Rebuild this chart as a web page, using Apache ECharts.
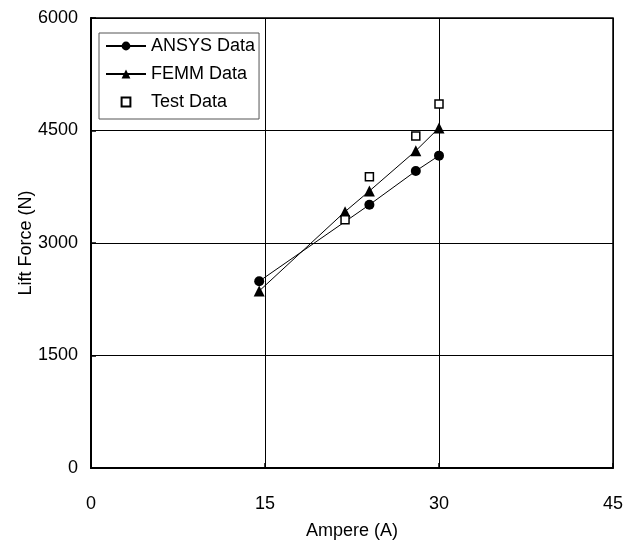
<!DOCTYPE html>
<html><head><meta charset="utf-8">
<script src="https://cdn.jsdelivr.net/npm/echarts@6/dist/echarts.min.js"></script>
<style>html,body{margin:0;padding:0;background:#fff}#c{width:626px;height:543px}</style>
</head><body><div id="c"></div>
<script>
const ansysX = [14.5, 24, 28, 30];
const ansysY = [2490, 3510, 3960, 4165];
const femmX = [14.5, 21.9, 24, 28, 30];
const femmY = [2360, 3418, 3693, 4230, 4535];
const testX = [21.9, 24, 28, 30];
const testY = [3310, 3884, 4427, 4853];
const xTicks = [0, 15, 30, 45];
const yTicks = [0, 1500, 3000, 4500, 6000];

const zip = (xs, ys) => xs.map((x, i) => [x, ys[i]]);
const font = 'Liberation Sans, Arial, sans-serif';
const chart = echarts.init(document.getElementById('c'));
chart.setOption({
  animation: false,
  backgroundColor: '#fff',
  grid: { left: 91, right: 13, top: 18, bottom: 75, outerBoundsMode: 'none', containLabel: false,
    show: true, borderColor: '#000', borderWidth: 1.5, backgroundColor: 'transparent' },
  xAxis: {
    type: 'value', min: xTicks[0], max: xTicks[xTicks.length - 1], interval: 15,
    name: 'Ampere (A)', nameLocation: 'middle', nameGap: 54, nameMoveOverlap: false,
    nameTextStyle: { color: '#000', fontSize: 18, fontFamily: font },
    axisLine: { show: true, lineStyle: { color: '#000', width: 2 } },
    axisTick: { show: true, inside: true, length: 5, lineStyle: { color: '#000', width: 1.5 } },
    axisLabel: { color: '#000', fontSize: 18, fontFamily: font, margin: 27 },
    splitLine: { show: true, lineStyle: { color: '#000', width: 1 } }
  },
  yAxis: {
    type: 'value', min: yTicks[0], max: yTicks[yTicks.length - 1], interval: 1500,
    name: 'Lift Force (N)', nameLocation: 'middle', nameGap: 56, nameMoveOverlap: false,
    nameTextStyle: { color: '#000', fontSize: 18, fontFamily: font },
    axisLine: { show: true, lineStyle: { color: '#000', width: 2 } },
    axisTick: { show: true, inside: true, length: 5, lineStyle: { color: '#000', width: 1.5 } },
    axisLabel: { color: '#000', fontSize: 18, fontFamily: font, margin: 13, formatter: v => String(v) },
    splitLine: { show: true, lineStyle: { color: '#000', width: 1 } }
  },
  legend: {
    orient: 'vertical', left: 99, top: 33,
    padding: [4, 4, 8, 6],
    backgroundColor: '#fff', borderColor: '#555', borderWidth: 1,
    itemWidth: 40, itemHeight: 11, itemGap: 10,
    textStyle: { color: '#000', fontSize: 18, fontFamily: font, padding: [0, 0, 0, 0] },
    data: ['ANSYS Data', 'FEMM Data', 'Test Data']
  },
  series: [
    { name: 'ANSYS Data', type: 'line', data: zip(ansysX, ansysY), symbol: 'circle', symbolSize: 10,
      itemStyle: { color: '#000' }, lineStyle: { color: '#000', width: 1 }, z: 3 },
    { name: 'FEMM Data', type: 'line', data: zip(femmX, femmY), symbol: 'triangle', symbolSize: 11,
      itemStyle: { color: '#000' }, lineStyle: { color: '#000', width: 1 }, z: 3 },
    { name: 'Test Data', type: 'line', data: zip(testX, testY), symbol: 'rect', symbolSize: 8,
      itemStyle: { color: '#fff', borderColor: '#000', borderWidth: 1.5 },
      lineStyle: { width: 0, opacity: 0 }, z: 4 }
  ]
});
</script></body></html>
